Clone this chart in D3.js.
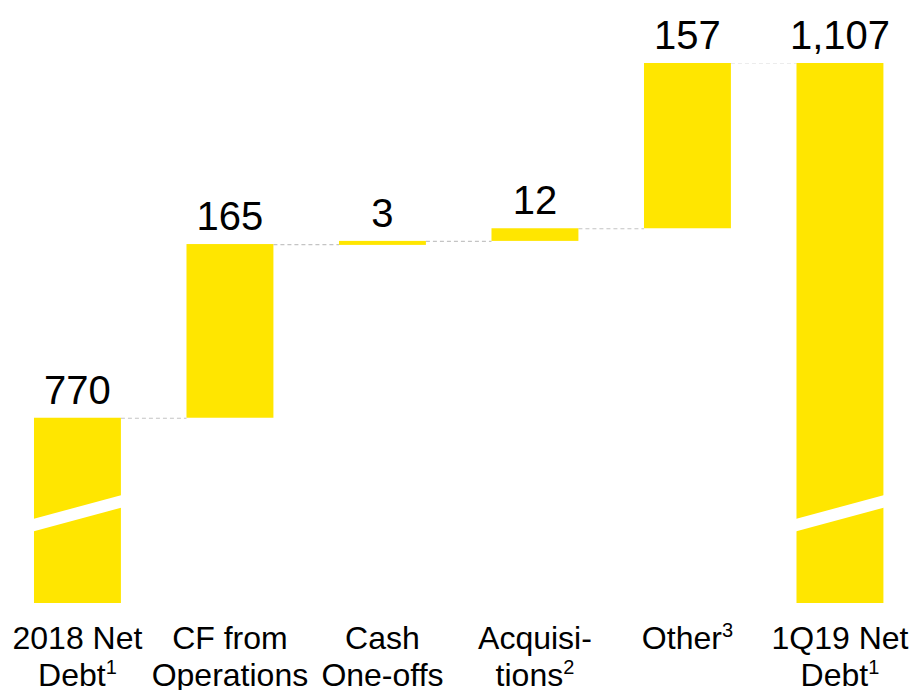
<!DOCTYPE html>
<html>
<head>
<meta charset="utf-8">
<script src="https://cdn.jsdelivr.net/npm/d3@7"></script>
<style>
  html, body { margin: 0; padding: 0; background: #ffffff; }
  svg { display: block; font-family: "Liberation Sans", Arial, sans-serif; }
</style>
</head>
<body>
<svg id="chart" width="912" height="690"></svg>
<script>
// ---- data ----
const categories = ["2018 Net Debt", "CF from Operations", "Cash One-offs", "Acquisitions", "Other", "1Q19 Net Debt"];
const labelLines = [["2018 Net", "Debt"], ["CF from", "Operations"], ["Cash", "One-offs"], ["Acquisi-", "tions"], ["Other"], ["1Q19 Net", "Debt"]];
const footnotes = ["1", "", "", "2", "3", "1"];
const startValue = 770;
const changes = [165, 3, 12, 157];
const endValue = 1107;
const kinds = ["total", "delta", "delta", "delta", "delta", "total"];
const axisFloor = 594; // broken axis: bars start from this value

// ---- build waterfall records ----
const records = [];
let running = startValue;
records.push({cat: categories[0], y0: axisFloor, y1: startValue, value: startValue, total: startValue});
changes.forEach((c, i) => {
  const from = running;
  running += c;
  records.push({cat: categories[i + 1], y0: from, y1: running, value: c, total: running});
});
records.push({cat: categories[5], y0: axisFloor, y1: endValue, value: endValue, total: endValue});

const svg = d3.select("#chart");
const x = d3.scaleBand().domain(categories).range([1.2, 916.2]).paddingInner(0.43).paddingOuter(0.215);
const y = d3.scaleLinear().domain([axisFloor, endValue]).range([603, 63]);
const fmt = d3.format(",");
const yellow = "#FFE600";

// connectors
const conn = svg.append("g");
records.slice(0, -1).forEach((r, i) => {
  const next = records[i + 1];
  conn.append("line")
    .attr("x1", x(r.cat) + x.bandwidth())
    .attr("x2", x(next.cat))
    .attr("y1", y(r.total) + 0.5)
    .attr("y2", y(r.total) + 0.5)
    .attr("stroke", i === records.length - 2 ? "#ececec" : "#c4c4c4")
    .attr("stroke-width", 1.2)
    .attr("stroke-dasharray", "4,3");
});

// bars
svg.append("g").selectAll("rect").data(records).join("rect")
  .attr("x", d => x(d.cat))
  .attr("width", x.bandwidth())
  .attr("y", d => y(Math.max(d.y0, d.y1)))
  .attr("height", d => Math.max(4, Math.abs(y(d.y0) - y(d.y1))))
  .attr("fill", yellow);

// axis-break bands on total bars
records.filter((d, i) => kinds[i] === "total").forEach(d => {
  const x0 = x(d.cat) - 1, x1 = x(d.cat) + x.bandwidth() + 1;
  svg.append("polygon")
    .attr("points", [[x0, 519], [x1, 495], [x1, 507.5], [x0, 531.5]].map(p => p.join(",")).join(" "))
    .attr("fill", "#ffffff");
});

// value labels
svg.append("g").selectAll("text").data(records).join("text")
  .attr("x", d => x(d.cat) + x.bandwidth() / 2)
  .attr("y", d => y(Math.max(d.y0, d.y1)) - 14)
  .attr("text-anchor", "middle")
  .attr("font-size", 40)
  .attr("fill", "#000")
  .text(d => fmt(d.value));

// category labels
const cl = svg.append("g");
categories.forEach((c, i) => {
  const t = cl.append("text")
    .attr("x", x(c) + x.bandwidth() / 2)
    .attr("y", 649)
    .attr("text-anchor", "middle")
    .attr("font-size", 32)
    .attr("fill", "#000");
  const lines = labelLines[i];
  lines.forEach((ln, j) => {
    t.append("tspan")
      .attr("x", x(c) + x.bandwidth() / 2)
      .attr("dy", j === 0 ? 0 : 37)
      .text(ln);
  });
  if (footnotes[i]) {
    t.append("tspan")
      .attr("font-size", 20)
      .attr("dy", -12)
      .text(footnotes[i]);
  }
});
</script>
</body>
</html>
